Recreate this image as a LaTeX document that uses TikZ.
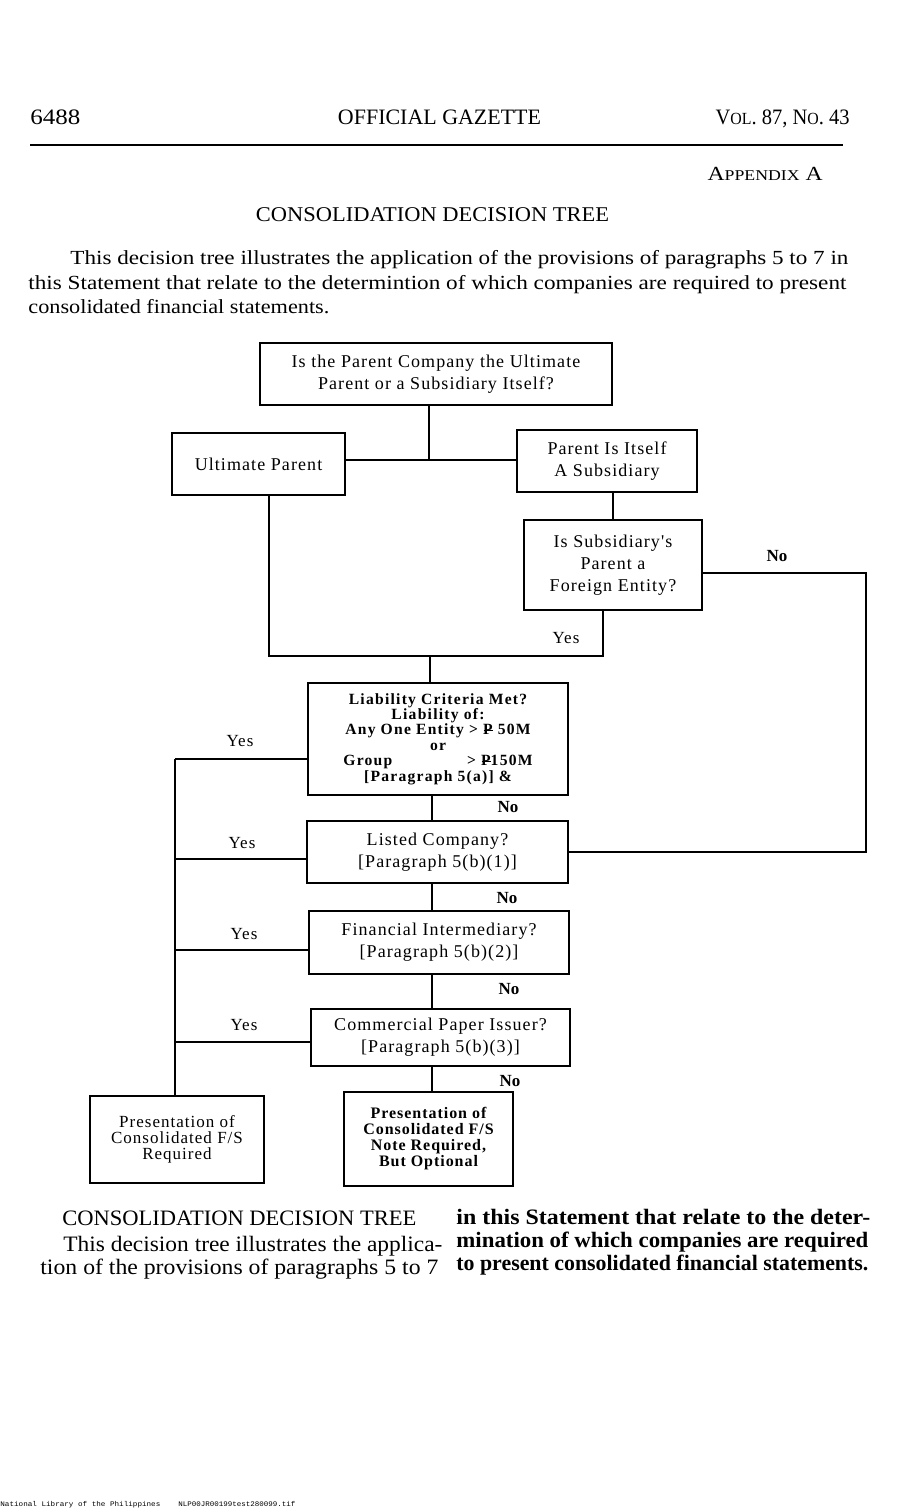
\documentclass[tikz,border=0pt]{standalone}
\usepackage{fontspec}
\usepackage{graphicx}
\setmainfont{Liberation Serif}
\newfontfamily\bxfont[LetterSpace=6]{Liberation Serif}
\newfontfamily\bxfontb[LetterSpace=8]{Liberation Serif}
\newfontfamily\ftfont{Liberation Mono}
\newcommand\fw[2]{\resizebox{#1}{\height}{#2}}
\newcommand\peso{P\llap{\rule[0.5ex]{0.62em}{0.07em}\kern-0.04em}}
\tikzset{
  box/.style={draw, line width=0.9pt, inner sep=0pt, align=center,
    font=\fontsize{9}{11}\selectfont\bxfont},
  lbl/.style={inner sep=0pt, font=\fontsize{8.5}{11}\selectfont\bxfont},
  nolbl/.style={inner sep=0pt, font=\fontsize{8.5}{11}\selectfont\bfseries},
  conn/.style={line width=0.9pt},
  txt/.style={inner sep=0pt, font=\fontsize{10}{12}\selectfont},
}
\begin{document}
\begin{tikzpicture}[x=0.5pt,y=-0.5pt]
\path[use as bounding box, fill=white] (0,0) rectangle (900,1508);

% header
\node[txt, anchor=base west, font=\fontsize{11}{12}\selectfont] (pg) at (30,125) {\fw{25pt}{6488}};
\node[txt, anchor=base, font=\fontsize{11}{12}\selectfont] (og) at (439.5,125) {\fw{101.5pt}{OFFICIAL GAZETTE}};
\node[txt, anchor=base east, font=\fontsize{11}{12}\selectfont] (vol) at (850,125) {\fw{67pt}{V{\fontsize{8.5}{10}\selectfont OL}. 87, N{\fontsize{8.5}{10}\selectfont O}. 43}};
\draw[line width=1.2pt] (30,145) -- (843,145);
\node[txt, anchor=base east] (app) at (823,181) {\fw{57.5pt}{A{\fontsize{7.5}{9}\selectfont PPENDIX} A}};
\node[txt, anchor=base, font=\fontsize{10.5}{12}\selectfont] (title) at (432.5,222) {\fw{176.5pt}{CONSOLIDATION DECISION TREE}};
\node[txt, anchor=base west] (p1) at (70,265) {\fw{389pt}{This decision tree illustrates the application of the provisions of paragraphs 5 to 7 in}};
\node[txt, anchor=base west] (p2) at (28,290) {\fw{409pt}{this Statement that relate to the determintion of which companies are required to present}};
\node[txt, anchor=base west] (p3) at (28,314) {\fw{150.5pt}{consolidated financial statements.}};

% boxes
\node[box, minimum width=176pt, minimum height=31pt] (top) at (436,374) {Is the Parent Company the Ultimate\\Parent or a Subsidiary Itself?};
\node[box, minimum width=86.5pt, minimum height=31pt] (ult) at (258.5,464) {Ultimate Parent};
\node[box, minimum width=90pt, minimum height=31pt] (pis) at (607,461) {Parent Is Itself\\A Subsidiary};
\node[box, minimum width=89pt, minimum height=45pt] (fe) at (613,565) {Is Subsidiary's\\Parent a\\Foreign Entity?};
\node[box, minimum width=130pt, minimum height=56pt,
  font=\fontsize{7.8}{7.7}\selectfont\bfseries\bxfontb] (liab) at (438,739)
  {Liability Criteria Met?\\Liability of:\\Any One Entity > \peso\ 50M\\or\\\rlap{Group}\phantom{Any One Entity} > \peso150M\\{}[Paragraph 5(a)] \&};
\node[box, minimum width=130.5pt, minimum height=31pt] (listed) at (437.5,852) {Listed Company?\\{}[Paragraph 5(b)(1)]};
\node[box, minimum width=130pt, minimum height=31.5pt] (fin) at (439,942.5) {Financial Intermediary?\\{}[Paragraph 5(b)(2)]};
\node[box, minimum width=129.5pt, minimum height=28.5pt] (com) at (440.5,1037.5) {Commercial Paper Issuer?\\{}[Paragraph 5(b)(3)]};
\node[box, minimum width=87pt, minimum height=43.5pt,
  font=\fontsize{8.5}{8}\selectfont\bxfont] (preq) at (177,1139.5) {Presentation of\\Consolidated F/S\\Required};
\node[box, minimum width=84.5pt, minimum height=47pt,
  font=\fontsize{8}{8}\selectfont\bfseries\bxfont] (pnot) at (428.5,1139) {Presentation of\\Consolidated F/S\\Note Required,\\But Optional};

% connectors
\coordinate (j1) at (429,460);
\draw[conn] (j1 |- top.south) -- (j1);
\draw[conn] (ult.east |- j1) -- (pis.west |- j1);
\draw[conn] (fe.north |- pis.south) -- (fe.north);
\coordinate (ml) at (269,656);
\coordinate (mr) at (603,656);
\coordinate (mm) at (430,656);
\draw[conn] (ml |- ult.south) -- (ml) -- (mr) -- (mr |- fe.south);
\draw[conn] (mm) -- (mm |- liab.north);
\coordinate (nr) at (866,573);
\draw[conn] (fe.east |- nr) -- (nr) -- (nr |- listed.east) -- (listed.east);
\coordinate (v) at (432,0);
\draw[conn] (v |- liab.south) -- (v |- listed.north);
\draw[conn] (v |- listed.south) -- (v |- fin.north);
\draw[conn] (v |- fin.south) -- (v |- com.north);
\draw[conn] (v |- com.south) -- (v |- pnot.north);
\coordinate (y1) at (175,759);
\coordinate (y2) at (175,859);
\coordinate (y3) at (175,950);
\coordinate (y4) at (175,1042);
\draw[conn] (y1) -- (y1 -| liab.west);
\draw[conn] (y2) -- (y2 -| listed.west);
\draw[conn] (y3) -- (y3 -| fin.west);
\draw[conn] (y4) -- (y4 -| com.west);
\draw[conn] (y1) -- (y1 |- preq.north);

% labels
\node[lbl] (yes0) at (566,638) {Yes};
\node[nolbl] (no0) at (777,556) {No};
\node[lbl] (yes1) at (240,741) {Yes};
\node[lbl] (yes2) at (242,843) {Yes};
\node[lbl] (yes3) at (244,934) {Yes};
\node[lbl] (yes4) at (244,1025) {Yes};
\node[nolbl] (no1) at (508,807) {No};
\node[nolbl] (no2) at (507,898) {No};
\node[nolbl] (no3) at (509,989) {No};
\node[nolbl] (no4) at (510,1081) {No};

% bottom text
\node[txt, anchor=base west, font=\fontsize{11}{12}\selectfont] (b1) at (62,1225) {\fw{177pt}{CONSOLIDATION DECISION TREE}};
\node[txt, anchor=base west, font=\fontsize{11}{12}\selectfont] (b2) at (63,1251) {\fw{189.5pt}{This decision tree illustrates the applica-}};
\node[txt, anchor=base west, font=\fontsize{11}{12}\selectfont] (b3) at (40,1274) {\fw{199pt}{tion of the provisions of paragraphs 5 to 7}};
\node[txt, anchor=base west, font=\fontsize{11}{12}\selectfont\bfseries] (c1) at (456,1224) {\fw{207pt}{in this Statement that relate to the deter-}};
\node[txt, anchor=base west, font=\fontsize{11}{12}\selectfont\bfseries] (c2) at (456,1247) {\fw{206pt}{mination of which companies are required}};
\node[txt, anchor=base west, font=\fontsize{11}{12}\selectfont\bfseries] (c3) at (456,1270) {\fw{206pt}{to present consolidated financial statements.}};

% footer
\node[inner sep=0pt, anchor=base west, font=\fontsize{3.5}{4}\selectfont\ftfont] (f1) at (0,1506) {\fw{80pt}{National Library of the Philippines}};
\node[inner sep=0pt, anchor=base west, font=\fontsize{3.5}{4}\selectfont\ftfont] (f2) at (178,1506) {\fw{58.5pt}{NLP00JR00199test280099.tif}};
\end{tikzpicture}
\end{document}
